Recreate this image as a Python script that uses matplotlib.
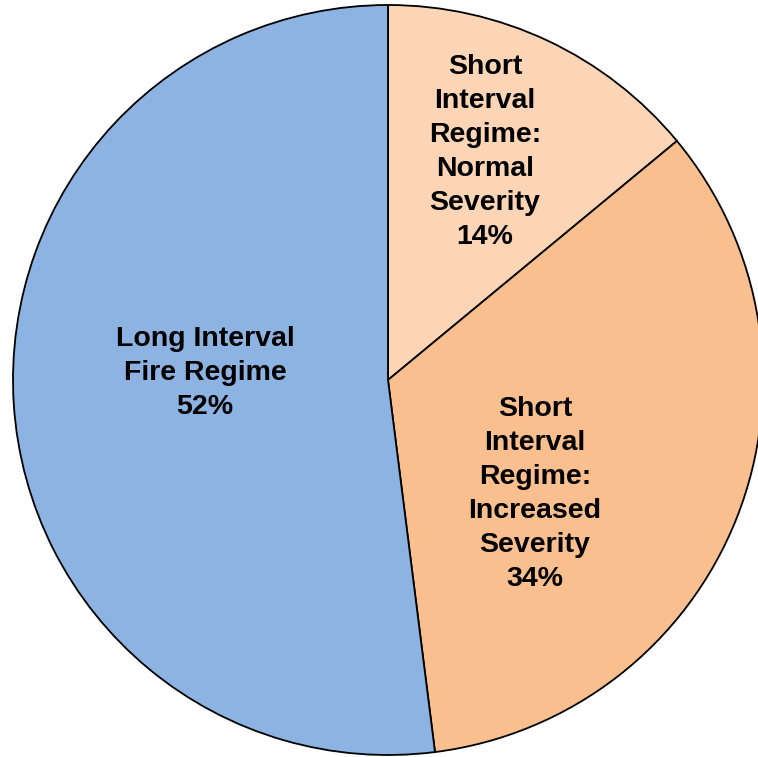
import matplotlib.pyplot as plt

categories = ['Short\nInterval\nRegime:\nNormal\nSeverity',
              'Short\nInterval\nRegime:\nIncreased\nSeverity',
              'Long Interval\nFire Regime']
shares = [14, 34, 52]
colors = ['#FBD5B5', '#F9BF8F', '#8DB3E2']

# label centres in pixel coords (y from top)
label_pos = [(485, 152), (535, 494), (205, 373)]

W, H = 758, 757
fig = plt.figure(figsize=(W / 100, H / 100), dpi=100)
ax = fig.add_axes([0, 0, 1, 1])

ax.pie(shares, colors=colors, startangle=90, counterclock=False,
       center=(388, H - 380), radius=375, frame=True,
       wedgeprops={'edgecolor': 'black', 'linewidth': 1.3})

for name, val, (x, y) in zip(categories, shares, label_pos):
    ax.text(x, H - y, f'{name}\n{val}%', ha='center', va='center',
            fontsize=20.5, fontweight='bold', family='Liberation Sans',
            linespacing=1.39)

ax.set_xlim(0, W)
ax.set_ylim(0, H)
ax.set_aspect('equal')
ax.axis('off')

plt.savefig('out.png', dpi=100)
